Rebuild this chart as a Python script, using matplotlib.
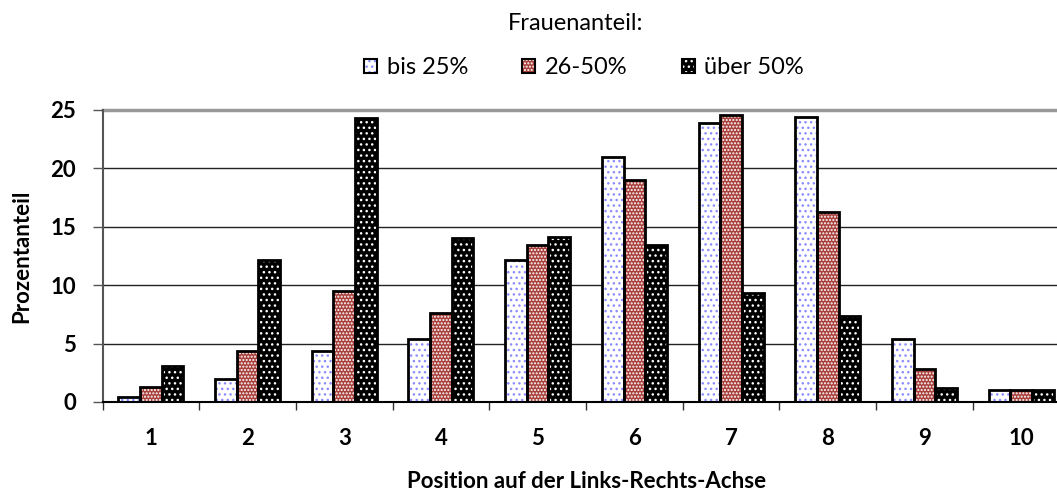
import numpy as np
import matplotlib.pyplot as plt
from matplotlib.patches import Patch

plt.rcParams['font.family'] = ['Lato', 'DejaVu Sans']
plt.rcParams['hatch.linewidth'] = 1.0

# Data
positions = ['1', '2', '3', '4', '5', '6', '7', '8', '9', '10']
bis_25 = [0.4, 2.0, 4.4, 5.4, 12.2, 21.0, 23.9, 24.4, 5.4, 1.0]
von_26_50 = [1.3, 4.4, 9.5, 7.6, 13.4, 19.0, 24.6, 16.3, 2.8, 1.0]
ueber_50 = [3.1, 12.2, 24.3, 14.0, 14.1, 13.4, 9.3, 7.4, 1.2, 1.0]
series_labels = ['bis 25%', '26-50%', 'über 50%']

# style per series: face colour, hatch, hatch colour
styles = [('white', '...', '#8c8cff'),
          ('#a8403c', '.....', 'white'),
          ('black', '...', 'white')]

fig = plt.figure(figsize=(10.57, 4.95), dpi=100)
ax = fig.add_axes([102.5 / 1057, 1 - 402 / 495, 967 / 1057, 292 / 495])

x = np.arange(len(positions))
w = 0.224
handles = []
for i, (vals, (fc, hatch, hc)) in enumerate(zip([bis_25, von_26_50, ueber_50], styles)):
    xs = x + (i - 1) * w
    ax.bar(xs, vals, w, facecolor=fc, hatch=hatch, edgecolor=hc, linewidth=0, zorder=3)
    ax.bar(xs, vals, w, fill=False, edgecolor='black', linewidth=2, zorder=4)
    handles.append((Patch(facecolor=fc, hatch=hatch, edgecolor=hc, linewidth=0),
                    Patch(fill=False, edgecolor='black', linewidth=1.5)))

ax.set_xlim(-0.5, len(positions) - 0.5)
ax.set_ylim(0, 25)
ax.set_yticks([0, 5, 10, 15, 20, 25])
ax.set_yticklabels(['0', '5', '10', '15', '20', '25'], fontsize=16, fontweight='bold')
ax.set_xticks(x)
ax.set_xticklabels(positions, fontsize=16, fontweight='bold')
ax.tick_params(axis='x', length=0, pad=19)
ax.set_xticks(np.arange(-0.5, len(positions)), minor=True)
ax.tick_params(axis='x', which='minor', length=6, width=1, color='#333333', direction='out')
ax.tick_params(axis='y', length=7, width=1, color='#555555', pad=12)

for yv in [5, 10, 15, 20]:
    ax.axhline(yv, color='#222222', linewidth=1, zorder=1)
ax.axhline(25, color='#999999', linewidth=2.5, zorder=1, clip_on=False)

for s in ['top', 'right']:
    ax.spines[s].set_visible(False)
ax.spines['left'].set_color('#555555')
ax.spines['left'].set_linewidth(1.5)
ax.spines['bottom'].set_color('black')
ax.spines['bottom'].set_linewidth(1.5)
ax.spines['bottom'].set_zorder(5)

ax.set_ylabel('Prozentanteil', fontsize=16, fontweight='bold')
ax.set_xlabel('Position auf der Links-Rechts-Achse', fontsize=16, fontweight='bold')
ax.xaxis.set_label_coords((587 - 102.5) / 967, -(481 - 402) / 292)
ax.xaxis.label.set_va('center')
ax.yaxis.set_label_coords(-(102.5 - 22) / 967, 0.5)
ax.yaxis.label.set_va('center')

fig.text(576 / 1057, 1 - 23 / 495, 'Frauenanteil:', ha='center', va='center', fontsize=17)
fig.legend(handles, series_labels, loc='center', bbox_to_anchor=(584 / 1057, 1 - 68 / 495),
           ncol=3, frameon=False, fontsize=17, handlelength=0.55, handleheight=0.55,
           handletextpad=0.4, columnspacing=2.3)

fig.savefig('out.png', dpi=100)
